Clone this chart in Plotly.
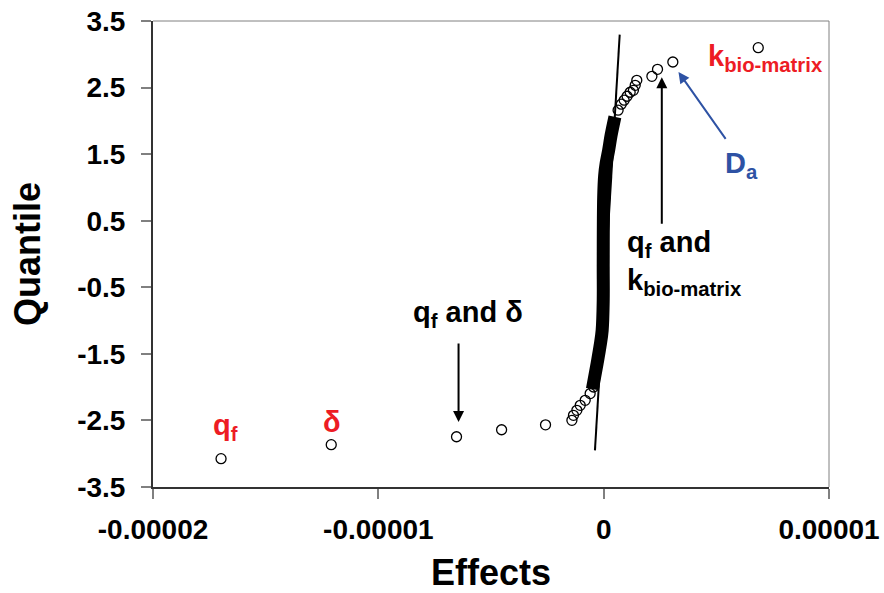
import plotly.graph_objects as go

# ---- data ----
# isolated / tail points of the normal-probability plot (Effects, Quantile)
effects_pts = [-1.698e-5, -1.209e-5, -0.653e-5, -0.453e-5, -0.258e-5,
               -0.141e-5, -0.134e-5, -0.119e-5, -0.104e-5, -0.082e-5, -0.060e-5, -0.045e-5,
               0.064e-5, 0.078e-5, 0.091e-5, 0.104e-5, 0.1175e-5, 0.132e-5, 0.140e-5, 0.147e-5,
               0.214e-5, 0.239e-5, 0.307e-5, 0.686e-5]
quantile_pts = [-3.074, -2.864, -2.745, -2.640, -2.566,
                -2.498, -2.423, -2.348, -2.273, -2.198, -2.097, -1.998,
                2.160, 2.250, 2.310, 2.370, 2.430, 2.459, 2.534, 2.609,
                2.669, 2.774, 2.884, 3.100]

# dense central body of points (traced path of the solid band)
band_effects = [-0.050e-5, -0.029e-5, -0.0155e-5, -0.0067e-5, -0.002e-5, -0.002e-5,
                0.0, 0.0044e-5, 0.011e-5, 0.022e-5, 0.033e-5, 0.050e-5]
band_quantile = [-2.030, -1.642, -1.372, -1.147, -0.696, -0.140,
                 0.851, 1.180, 1.362, 1.558, 1.783, 2.060]

# reference (normal) line
ref_effects = [-0.0387e-5, 0.0711e-5]
ref_quantile = [-2.95, 3.296]

x_tickvals = [-2e-5, -1e-5, 0, 1e-5]
x_ticktext = ["-0.00002", "-0.00001", "0", "0.00001"]
y_tickvals = [-3.5, -2.5, -1.5, -0.5, 0.5, 1.5, 2.5, 3.5]
y_ticktext = ["-3.5", "-2.5", "-1.5", "-0.5", "0.5", "1.5", "2.5", "3.5"]

FONT = "Liberation Sans, Arial, sans-serif"
RED = "#ED1C24"
BLUE = "#2E52A4"

fig = go.Figure()
fig.add_trace(go.Scatter(x=band_effects, y=band_quantile, mode="lines",
                         line=dict(color="black", width=13, shape="spline"),
                         showlegend=False, hoverinfo="skip"))
fig.add_trace(go.Scatter(x=ref_effects, y=ref_quantile, mode="lines",
                         line=dict(color="black", width=2), showlegend=False))
fig.add_trace(go.Scatter(x=effects_pts, y=quantile_pts, mode="markers",
                         marker=dict(symbol="circle-open", size=10, color="black",
                                     line=dict(width=1.3, color="black")),
                         showlegend=False))

ann = []
def txt(x, y, t, color, size=29, xanchor="center", align="center"):
    ann.append(dict(x=x, y=y, xref="x", yref="y", text=t, showarrow=False,
                    font=dict(family=FONT, size=size, color=color),
                    xanchor=xanchor, yanchor="middle", align=align))

def arrow(x0, y0, x1, y1, color, head=2, width=2):
    ann.append(dict(x=x1, y=y1, ax=x0, ay=y0, xref="x", yref="y", axref="x", ayref="y",
                    text="", showarrow=True, arrowhead=head, arrowsize=1.1,
                    arrowwidth=width, arrowcolor=color))

txt(-1.678e-5, -2.60, "<b>q<sub>f</sub></b>", RED)
txt(-1.205e-5, -2.52, "<b>δ</b>", RED)
txt(-0.601e-5, -0.906, "<b>q<sub>f</sub> and δ</b>", "black")
arrow(-0.644e-5, -1.322, -0.644e-5, -2.524, "black")
txt(0.095e-5, -0.14, "<b>q<sub>f</sub> and<br>k<sub>bio-matrix</sub></b>", "black",
    xanchor="left", align="left")
arrow(0.258e-5, 0.431, 0.258e-5, 2.654, "black")
txt(0.716e-5, 2.94, "<b>k<sub>bio-matrix</sub></b>", RED)
txt(0.61e-5, 1.332, "<b>D<sub>a</sub></b>", BLUE)
arrow(0.546e-5, 1.708, 0.332e-5, 2.734, BLUE)

fig.update_layout(
    width=884, height=593,
    margin=dict(l=153, r=55, t=21, b=106),
    paper_bgcolor="white", plot_bgcolor="white",
    annotations=ann,
    font=dict(family=FONT, color="black"),
    xaxis=dict(range=[-2e-5, 1e-5], tickvals=x_tickvals, ticktext=x_ticktext,
               automargin=False,
               showgrid=False, zeroline=False, showline=True, linecolor="#333333",
               linewidth=2, mirror=False, ticks="outside", ticklen=10, tickcolor="#808080",
               tickwidth=1.5, ticklabelstandoff=6,
               tickfont=dict(size=28, family=FONT, color="black", weight="bold"),
               title=dict(text="<b>Effects</b>", font=dict(size=36, family=FONT), standoff=16)),
    yaxis=dict(range=[-3.5, 3.5], tickvals=y_tickvals, ticktext=y_ticktext,
               automargin=False,
               showgrid=False, zeroline=False, showline=True, linecolor="#333333",
               linewidth=2, ticks="outside", ticklen=10, tickcolor="#808080", tickwidth=1.5,
               ticklabelstandoff=10,
               tickfont=dict(size=28, family=FONT, color="black", weight="bold"),
               title=dict(text="<b>Quantile</b>", font=dict(size=36, family=FONT), standoff=26)),
    shapes=[dict(type="line", xref="paper", yref="paper", x0=0, x1=1, y0=1, y1=1,
                 line=dict(color="#808080", width=1)),
            dict(type="line", xref="paper", yref="paper", x0=1, x1=1, y0=0, y1=1,
                 line=dict(color="#808080", width=1))],
)

fig.write_html("out.html")
